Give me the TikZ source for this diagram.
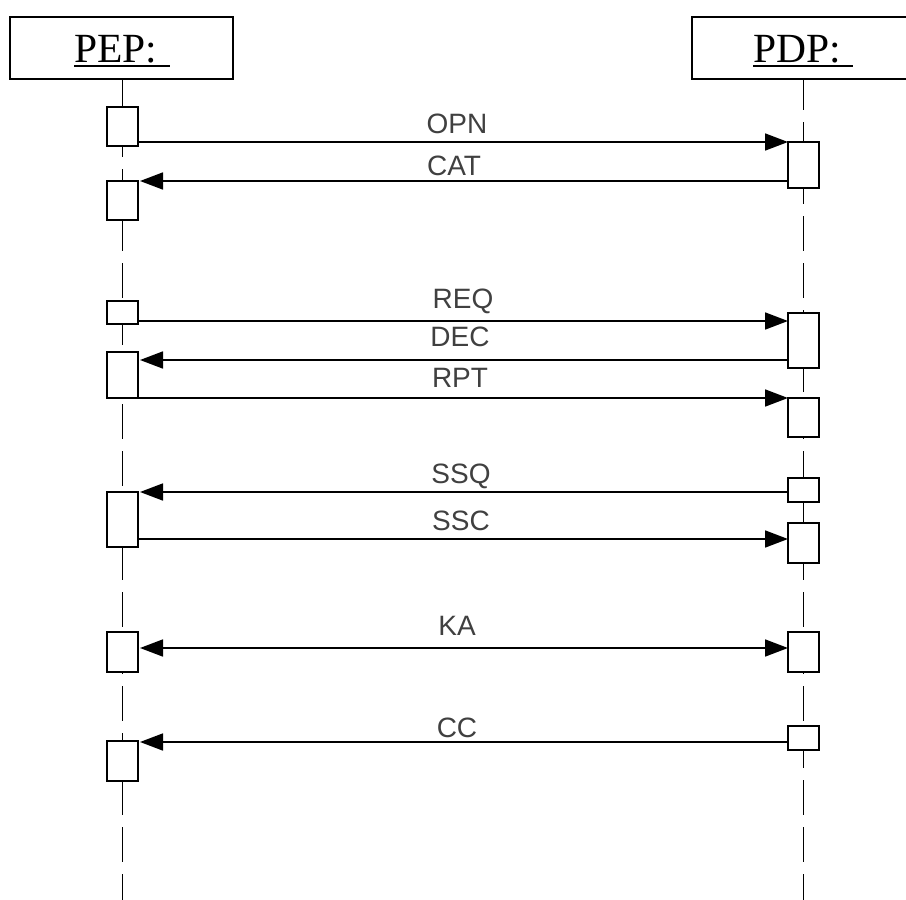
\documentclass[tikz,border=0pt]{standalone}
\usepackage{fontspec}
\setmainfont{Liberation Serif}
\newfontfamily\lblfont{Liberation Sans}
\usetikzlibrary{arrows.meta}
\begin{document}
\begin{tikzpicture}[x=1pt,y=-1pt,
  headbox/.style={draw, fill=white, line width=1.7pt, inner sep=0pt, outer sep=0pt},
  act/.style={draw, fill=white, minimum width=31pt, inner sep=0pt, outer sep=0pt, line width=1.7pt},
  life/.style={line width=1.7pt, dash pattern=on 35pt off 12pt, dash phase=4pt},
  msg/.style={line width=1.7pt, -{Triangle[length=23pt,width=17pt]}},
  bimsg/.style={line width=1.7pt, {Triangle[length=23pt,width=17pt]}-{Triangle[length=23pt,width=17pt]}},
  lbl/.style={font=\lblfont\fontsize{28}{30}\selectfont, text=black!75, anchor=base, inner sep=0pt},
  headtxt/.style={font=\fontsize{41.5}{44}\selectfont, anchor=base west, inner sep=0pt},
  uline/.style={line width=1.8pt}]
\useasboundingbox (0,0) rectangle (906,900);
\clip (0,0) rectangle (906,900);
\fill[white] (0,0) rectangle (906,900);

% head boxes
\node[headbox, minimum width=223pt, minimum height=62pt] (pep) at (121.5,48) {};
\node[headbox, minimum width=220pt, minimum height=62pt] (pdp) at (802,48) {};
\node[headtxt] (peptxt) at (74,62) {PEP:};
\node[headtxt] (pdptxt) at (753,62) {PDP:};
\draw[uline] ([yshift=-4pt]peptxt.base west) -- ++(96,0);
\draw[uline] ([yshift=-4pt]pdptxt.base west) -- ++(100,0);

% lifelines
\coordinate (pepend) at (122.5,900);
\coordinate (pdpend) at (803.5,900);
\draw[life] (pepend |- pep.south) -- (pepend);
\draw[life] (pdpend |- pdp.south) -- (pdpend);

% activation boxes PEP
\node[act, minimum height=39pt] (a1) at (122.5,126.5) {};
\node[act, minimum height=39pt] (a2) at (122.5,200.5) {};
\node[act, minimum height=23pt] (a3) at (122.5,312.5) {};
\node[act, minimum height=46pt] (a4) at (122.5,375) {};
\node[act, minimum height=55pt] (a5) at (122.5,519.5) {};
\node[act, minimum height=40pt] (a6) at (122.5,652) {};
\node[act, minimum height=40pt] (a7) at (122.5,761) {};

% activation boxes PDP
\node[act, minimum height=46pt] (b1) at (803.5,165) {};
\node[act, minimum height=55pt] (b2) at (803.5,340.5) {};
\node[act, minimum height=39pt] (b3) at (803.5,417.5) {};
\node[act, minimum height=24pt] (b4) at (803.5,490) {};
\node[act, minimum height=40pt] (b5) at (803.5,543) {};
\node[act, minimum height=40pt] (b6) at (803.5,652) {};
\node[act, minimum height=24pt] (b7) at (803.5,738) {};

% messages
\draw[msg] (a1.east |- 0,142) -- (b1.west |- 0,142);
\draw[msg] (b1.west |- 0,181) -- ([xshift=2pt]a2.east |- 0,181);
\draw[msg] (a3.east |- 0,321) -- (b2.west |- 0,321);
\draw[msg] (b2.west |- 0,360) -- ([xshift=2pt]a4.east |- 0,360);
\draw[msg] (a4.east |- 0,398) -- (b3.west |- 0,398);
\draw[msg] (b4.west |- 0,492) -- ([xshift=2pt]a5.east |- 0,492);
\draw[msg] (a5.east |- 0,539) -- (b5.west |- 0,539);
\draw[bimsg] ([xshift=2pt]a6.east |- 0,648) -- (b6.west |- 0,648);
\draw[msg] (b7.west |- 0,742) -- ([xshift=2pt]a7.east |- 0,742);

% labels
\node[lbl] (lopn) at (457,133) {OPN};
\node[lbl] (lcat) at (454,175) {CAT};
\node[lbl] (lreq) at (463,308) {REQ};
\node[lbl] (ldec) at (460,346) {DEC};
\node[lbl] (lrpt) at (460,387) {RPT};
\node[lbl] (lssq) at (461,483) {SSQ};
\node[lbl] (lssc) at (461,530) {SSC};
\node[lbl] (lka) at (457,635) {KA};
\node[lbl] (lcc) at (457,737) {CC};
\end{tikzpicture}
\end{document}
